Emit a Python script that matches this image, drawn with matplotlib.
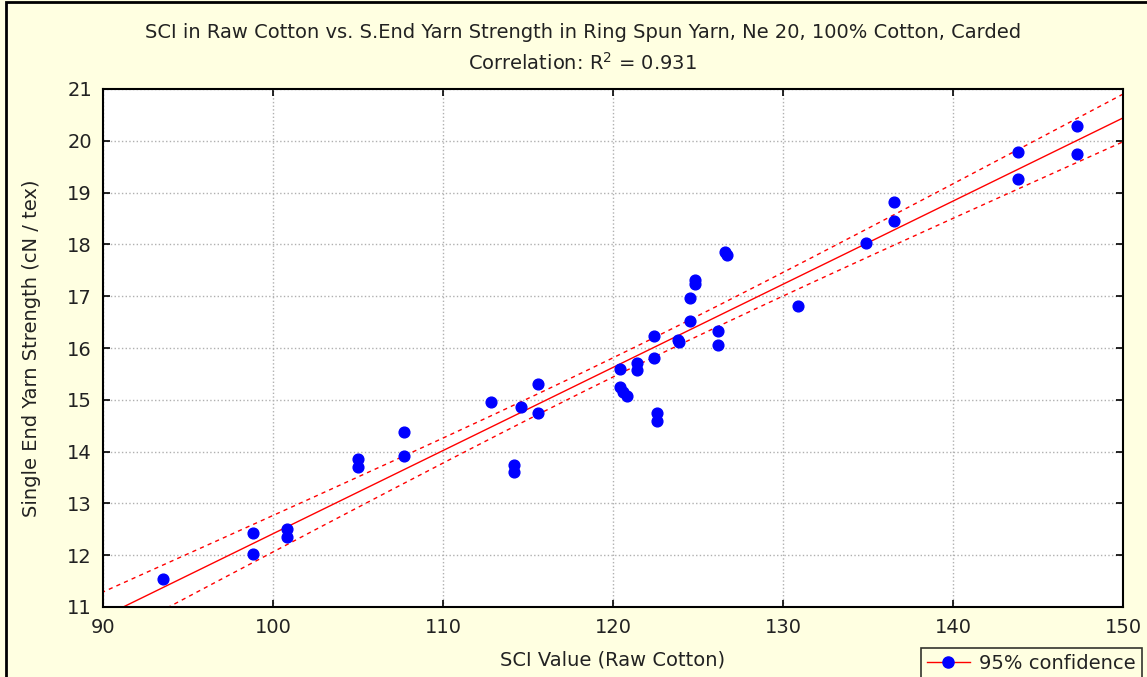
import numpy as np
import matplotlib.pyplot as plt
from matplotlib.lines import Line2D
from matplotlib.patches import Rectangle

plt.rcParams['font.family'] = ['DejaVu Sans']

# SCI value (raw cotton) and single end yarn strength (cN/tex)
sci = [93.5, 98.8, 98.8, 100.8, 100.8, 105.0, 105.0, 107.7, 107.7,
       112.8, 114.2, 114.2, 114.6, 115.6, 115.6,
       120.4, 120.4, 120.6, 120.8, 121.4, 121.4, 122.4, 122.4, 122.6, 122.6,
       123.8, 123.9, 124.5, 124.5, 124.8, 124.8, 126.2, 126.2, 126.6, 126.7,
       130.9, 134.9, 136.5, 136.5, 143.8, 143.8, 147.3, 147.3]
strength = [11.54, 12.42, 12.03, 12.50, 12.35, 13.85, 13.71, 14.37, 13.92,
            14.96, 13.74, 13.61, 14.87, 15.31, 14.75,
            15.59, 15.24, 15.15, 15.07, 15.71, 15.58, 16.24, 15.80, 14.74, 14.60,
            16.16, 16.11, 16.97, 16.53, 17.32, 17.23, 16.32, 16.06, 17.86, 17.80,
            16.81, 18.02, 18.81, 18.46, 19.79, 19.27, 20.28, 19.75]

x = np.array(sci)
y = np.array(strength)
n = len(x)

# linear fit + 95% confidence band of the mean
b, a = np.polyfit(x, y, 1)
xs = np.linspace(89, 151, 200)
yfit = a + b*xs
resid = y - (a + b*x)
s = np.sqrt(np.sum(resid**2)/(n-2))
sxx = np.sum((x - x.mean())**2)
tval = 2.018
half = tval*s*np.sqrt(1/n + (xs - x.mean())**2/sxx)

bg = '#FFFFE1'
fs = 14
fig = plt.figure(figsize=(11.47, 6.77), dpi=100)
fig.patch.set_facecolor(bg)
fig.patches.append(Rectangle((6/1147, -0.1), 1.2, 1.1 - 2/677, transform=fig.transFigure,
                             fill=False, edgecolor='black', linewidth=2, zorder=10))

ax = fig.add_axes([103/1147, 1-607/677, 1020/1147, 518/677])
ax.set_facecolor('white')

ax.plot(xs, yfit, color='red', lw=1)
ax.plot(xs, yfit + half, color='red', lw=1, ls=(0, (3, 3)))
ax.plot(xs, yfit - half, color='red', lw=1, ls=(0, (3, 3)))
ax.scatter(x, y, s=60, color='blue', edgecolors='blue', zorder=3)

ax.set_xlim(90, 150)
ax.set_ylim(11, 21)
ax.set_xticks(np.arange(90, 151, 10))
ax.set_yticks(np.arange(11, 22, 1))
ax.grid(True, color='#b0b0b0', ls=':', lw=1)
ax.tick_params(direction='in', top=True, right=True, length=5, width=1.2,
               labelsize=fs, labelcolor='#222222', pad=8)
for sp in ax.spines.values():
    sp.set_linewidth(1.5)

ax.set_xlabel('SCI Value (Raw Cotton)', fontsize=fs, color='#222222')
ax.set_ylabel('Single End Yarn Strength (cN / tex)', fontsize=fs, color='#222222')
ax.xaxis.set_label_coords(0.5, (607-660)/518, transform=ax.transAxes)
ax.yaxis.set_label_coords((32-103)/1020, 0.5, transform=ax.transAxes)
ax.xaxis.label.set_va('center')
ax.yaxis.label.set_va('center')

fig.text(0.508, 1-32/677, 'SCI in Raw Cotton vs. S.End Yarn Strength in Ring Spun Yarn, Ne 20, 100% Cotton, Carded',
         ha='center', va='center', fontsize=fs, color='#222222')
fig.text(0.508, 1-63/677, 'Correlation: R$^2$ = 0.931', ha='center', va='center',
         fontsize=fs, color='#222222')

h = Line2D([], [], color='red', lw=1, marker='o', markersize=8, markerfacecolor='blue',
           markeredgecolor='blue')
leg = fig.legend([h], ['95% confidence'], loc='upper left', bbox_to_anchor=(921/1147, 1-648/677),
                 fontsize=fs, frameon=True, fancybox=False, edgecolor='black',
                 facecolor=bg, borderpad=0.3, borderaxespad=0, handlelength=2.2,
                 handletextpad=0.5)
leg.get_frame().set_linewidth(1.2)
for t in leg.get_texts():
    t.set_color('#222222')

fig.savefig('out.png', dpi=100, facecolor=bg)
